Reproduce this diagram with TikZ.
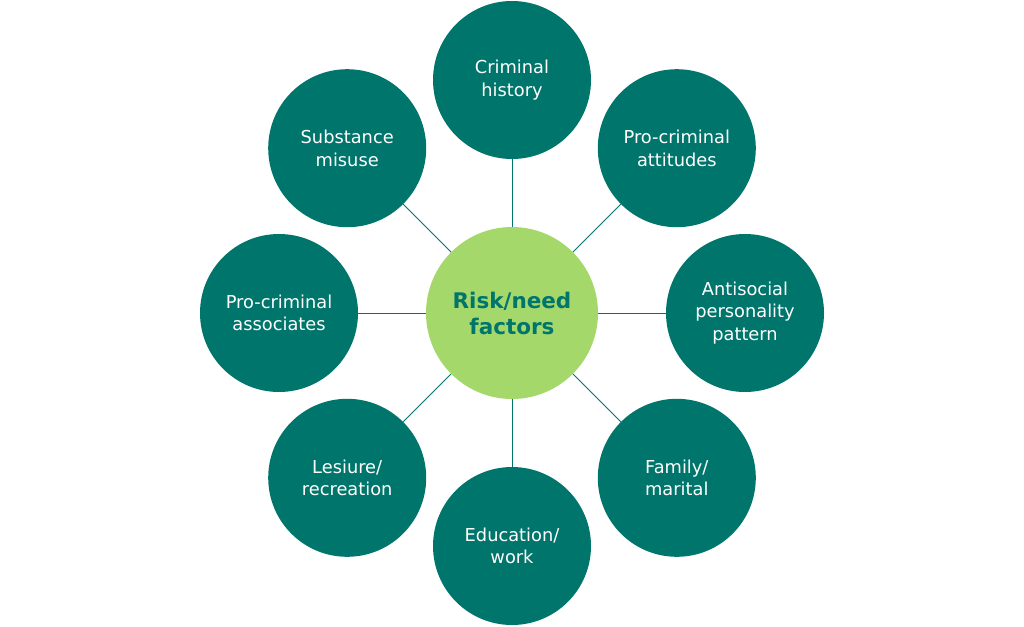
\documentclass[tikz,border=0pt]{standalone}
\usepackage{fontspec}
\setmainfont{DejaVu Sans}
\definecolor{teal1}{HTML}{00756B}
\definecolor{green1}{HTML}{A5D86B}
\begin{document}
\begin{tikzpicture}[x=1pt,y=1pt,
  outer/.style={circle,fill=teal1,minimum size=158pt,inner sep=0pt,text=white,align=center,
    font=\fontsize{17.8}{22.5}\selectfont},
  hub/.style={circle,fill=green1,minimum size=172pt,inner sep=0pt,text=teal1,align=center,
    font=\fontsize{21.5}{26}\selectfont\bfseries},
  link/.style={draw=teal1,line width=0.9pt}]
\useasboundingbox (0,0) rectangle (1024,-626);
\node[hub] (c) at (512,-313) {Risk/need\\factors};
\node[outer] (n1) at (512,-80) {Criminal\\history};
\node[outer] (n2) at (676.8,-148.2) {Pro-criminal\\attitudes};
\node[outer] (n3) at (745,-313) {Antisocial\\personality\\pattern};
\node[outer] (n4) at (676.8,-477.8) {Family/\\marital};
\node[outer] (n5) at (512,-546) {Education/\\work};
\node[outer] (n6) at (347.2,-477.8) {Lesiure/\\recreation};
\node[outer] (n7) at (279,-313) {Pro-criminal\\associates};
\node[outer] (n8) at (347.2,-148.2) {Substance\\misuse};
\foreach \i in {1,...,8} {\draw[link] (c) -- (n\i);}
\end{tikzpicture}
\end{document}
